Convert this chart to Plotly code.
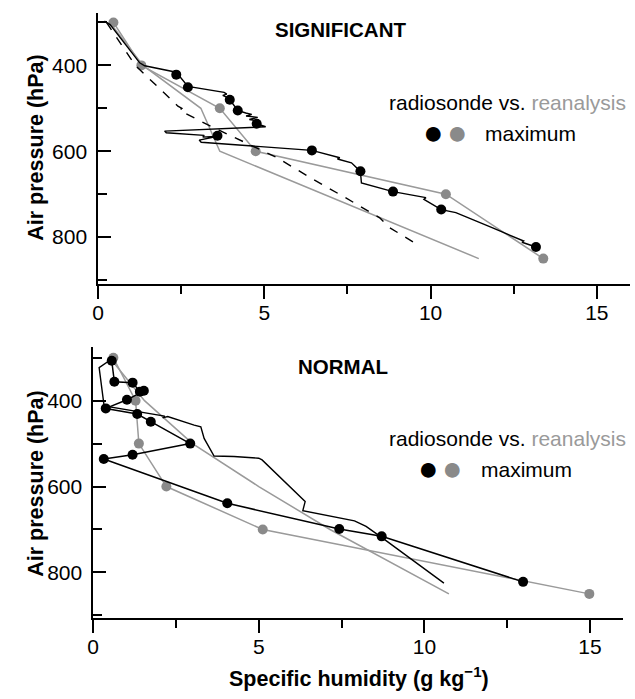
import plotly.graph_objects as go

# ---------------- data ----------------
# SIGNIFICANT panel
sig_rs_line_q = [0.19, 0.36, 1.25, 1.40, 2.35, 2.70, 3.79, 3.87, 3.75, 3.92, 3.96, 4.20, 4.44, 4.62, 4.45,
                 4.80, 4.55, 4.85, 4.77, 5.04, 2.00, 2.05, 3.19, 3.15, 3.60, 3.04, 3.10, 6.43, 7.27, 7.20,
                 7.62, 7.89, 7.92, 8.87, 9.86, 9.80, 10.32, 10.76, 11.85, 12.80, 12.75, 13.17]
sig_rs_line_p = [297, 305, 394, 401, 416, 449, 463, 467, 470, 476, 480, 505, 511, 514, 518,
                 521, 526, 530, 536, 543, 553, 557, 563, 567, 565, 574, 579, 598, 615, 618,
                 627, 647, 674, 694, 708, 712, 736, 743, 778, 809, 812, 823]
sig_rs_max_q = [2.35, 2.70, 3.96, 4.20, 4.77, 3.59, 6.43, 7.89, 8.87, 10.32, 13.17]
sig_rs_max_p = [421.6, 451, 480, 505, 536, 564, 598, 646.5, 694, 735.6, 823]
sig_rs_mean_q = [0.25, 1.12, 2.40, 2.52, 2.45, 3.29, 5.38, 6.48, 7.37, 8.47, 8.77, 9.51]
sig_rs_mean_p = [300, 400, 495, 500, 505, 538, 615, 666, 705, 755, 778, 813]
sig_ra_max_q = [0.46, 1.30, 3.66, 4.74, 10.46, 13.39]
sig_ra_max_p = [300, 400, 500, 600, 700, 850]
sig_ra_mean_q = [0.35, 1.35, 3.09, 3.66, 11.45]
sig_ra_mean_p = [300, 400, 500, 600, 850]

# NORMAL panel
norm_rs_max_q = [0.56, 0.64, 1.19, 1.41, 1.53, 1.02, 0.38, 1.33, 1.74, 2.93, 1.19, 0.32, 4.05, 7.43, 8.71, 12.98]
norm_rs_max_p = [307, 356, 358, 379, 377, 398, 418, 431, 449, 500, 526, 536, 639, 699, 716, 822]
norm_rs_mean_q = [0.56, 0.18, 0.33, 2.16, 2.10, 2.25, 3.05, 3.25, 3.35, 3.60, 3.65, 4.25, 5.00, 5.10,
                  6.40, 6.33, 7.89, 8.24, 8.74, 10.59]
norm_rs_mean_p = [303, 323, 412, 436, 440, 437, 457, 461, 488, 522, 529, 530, 534, 538,
                  635, 656, 680, 693, 720, 825]
norm_ra_max_q = [0.61, 1.28, 1.38, 2.21, 5.12, 14.98]
norm_ra_max_p = [300, 400, 500, 600, 700, 850]
norm_ra_mean_q = [0.50, 1.55, 3.00, 5.00, 7.15, 10.74]
norm_ra_mean_p = [300, 400, 500, 600, 700, 850]

x_ticks = [0, 5, 10, 15]
y_ticks = [400, 600, 800]

# ---------------- style ----------------
W, H = 635, 699
FONT = "Liberation Sans, Arial, Helvetica, sans-serif"
BLACK = "#000000"
GRAY_M = "#8a8a8a"
GRAY_L = "#9a9a9a"
FS = 21


def px_x(p):
    return p / W


def px_y(p):
    return 1 - p / H


fig = go.Figure()


def add_panel(xa, ya, ra_mean, ra_max, rs_mean, rs_mean_dash, rs_line, rs_max, rs_max_line):
    fig.add_trace(go.Scatter(x=ra_mean[0], y=ra_mean[1], mode="lines",
                             line=dict(color=GRAY_L, width=1.5), xaxis=xa, yaxis=ya, showlegend=False))
    fig.add_trace(go.Scatter(x=ra_max[0], y=ra_max[1], mode="lines+markers",
                             line=dict(color=GRAY_L, width=1.5),
                             marker=dict(color=GRAY_M, size=10), xaxis=xa, yaxis=ya, showlegend=False))
    fig.add_trace(go.Scatter(x=rs_mean[0], y=rs_mean[1], mode="lines",
                             line=dict(color=BLACK, width=1.4, dash="dash" if rs_mean_dash else "solid"),
                             xaxis=xa, yaxis=ya, showlegend=False))
    if rs_line is not None:
        fig.add_trace(go.Scatter(x=rs_line[0], y=rs_line[1], mode="lines",
                                 line=dict(color=BLACK, width=1.4), xaxis=xa, yaxis=ya, showlegend=False))
    fig.add_trace(go.Scatter(x=rs_max[0], y=rs_max[1], mode="lines+markers" if rs_max_line else "markers",
                             line=dict(color=BLACK, width=1.5),
                             marker=dict(color=BLACK, size=10), xaxis=xa, yaxis=ya, showlegend=False))


add_panel("x", "y", (sig_ra_mean_q, sig_ra_mean_p), (sig_ra_max_q, sig_ra_max_p),
          (sig_rs_mean_q, sig_rs_mean_p), True, (sig_rs_line_q, sig_rs_line_p),
          (sig_rs_max_q, sig_rs_max_p), False)
add_panel("x2", "y2", (norm_ra_mean_q, norm_ra_mean_p), (norm_ra_max_q, norm_ra_max_p),
          (norm_rs_mean_q, norm_rs_mean_p), False, None,
          (norm_rs_max_q, norm_rs_max_p), True)

xcommon = dict(range=[0, 16], tickvals=x_ticks, ticks="outside", ticklen=14, tickwidth=1.5,
               tickcolor=BLACK, showline=True, linecolor=BLACK, linewidth=1.5, showgrid=False,
               zeroline=False, tickfont=dict(family=FONT, size=FS, color=BLACK),
               minor=dict(tick0=0, dtick=2.5, ticks="outside", ticklen=9, tickwidth=1.5, tickcolor=BLACK,
                          showgrid=False),
               ticklabelstandoff=-4)
ycommon = dict(tickvals=y_ticks, ticks="inside", ticklen=13, tickwidth=1.5, tickcolor=BLACK,
               showline=True, linecolor=BLACK, linewidth=1.5, showgrid=False, zeroline=False,
               tickfont=dict(family=FONT, size=FS, color=BLACK),
               minor=dict(tick0=300, dtick=100, ticks="inside", ticklen=9, tickwidth=1.5, tickcolor=BLACK,
                          showgrid=False),
               ticklabelstandoff=5)

fig.update_layout(
    width=W, height=H, autosize=False,
    margin=dict(l=0, r=0, t=0, b=0),
    paper_bgcolor="white", plot_bgcolor="white",
    font=dict(family=FONT, color=BLACK),
    xaxis=dict(domain=[px_x(93), px_x(630)], anchor="y", **xcommon),
    yaxis=dict(domain=[px_y(283.5), px_y(13)], anchor="x", range=[908, 278], **ycommon),
    xaxis2=dict(domain=[px_x(88), px_x(623)], anchor="y2", **xcommon),
    yaxis2=dict(domain=[px_y(617.5), px_y(347)], anchor="x2", range=[905, 275], **ycommon),
)

ann = []


def text(x, y, s, size=FS, bold=False, xanchor="center", color=BLACK, angle=0):
    ann.append(dict(x=px_x(x), y=px_y(y), xref="paper", yref="paper", showarrow=False,
                    text=f"<b>{s}</b>" if bold else s, xanchor=xanchor, yanchor="middle",
                    textangle=angle, font=dict(family=FONT, size=size, color=color)))


text(338, 30, "SIGNIFICANT", size=20.5, bold=True)
text(340, 366, "NORMAL", size=20.5, bold=True)
for (ty, my, dx) in [(102, 133, 0), (438, 469, -5)]:
    text(628, ty, "radiosonde vs. <span style='color:#9a9a9a'>reanalysis</span>", xanchor="right")
    text(530 + dx, my, "maximum")
    text(432 + dx, my - 1, "●", size=34, color=BLACK)
    text(456 + dx, my - 1, "●", size=34, color=GRAY_M)
text(30, 148, "Air pressure (hPa)", size=21.5, bold=True, angle=-90)
text(30, 484, "Air pressure (hPa)", size=21.5, bold=True, angle=-90)
text(356, 677, "Specific humidity (g kg<sup>−1</sup>)", size=21.5, bold=True)

fig.update_layout(annotations=ann)
fig.write_html("out.html")
